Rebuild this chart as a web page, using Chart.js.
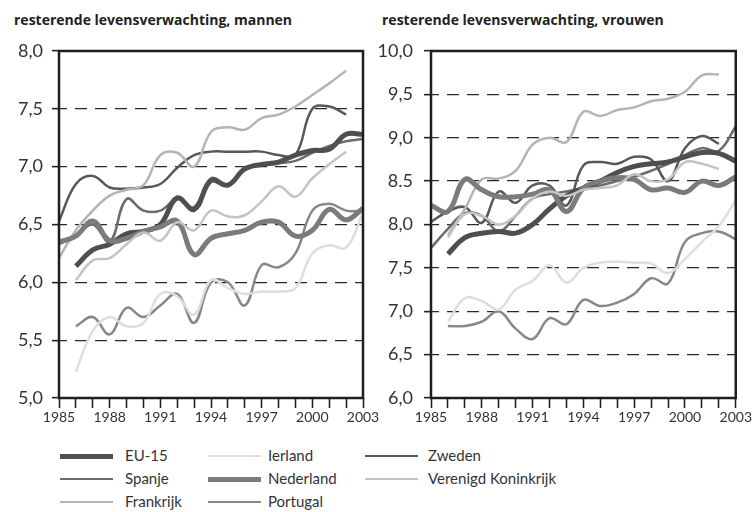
<!DOCTYPE html>
<html lang="nl">
<head>
  <meta charset="UTF-8">
  <title>Resterende levensverwachting</title>
  <script src="https://cdn.jsdelivr.net/npm/chart.js"></script>
  <style>
    body { margin: 0; background: #fff; }
    .wrap { position: relative; width: 753px; height: 512px; overflow: hidden; }
    .title { position: absolute; top: 10px; font: bold 14px "Open Sans", sans-serif; color: #222; }
    canvas { position: absolute; top: 0; }
    .leg { position: absolute; font: 15px Lato, sans-serif; color: #333; line-height: 18px; }
    .leg i { position: absolute; top: 50%; }
  </style>
</head>
<body>
  <div class="wrap">
    <div class="title" style="left:14px">resterende levensverwachting, mannen</div>
    <div class="title" style="left:382px">resterende levensverwachting, vrouwen</div>
    <div style="position:absolute;left:0;top:0;width:385px;height:440px"><canvas id="men"></canvas></div>
    <div style="position:absolute;left:366px;top:0;width:387px;height:440px"><canvas id="women"></canvas></div>
    <div id="legend"></div>
  </div>

  <script>
    const years = ['1985', '1986', '1987', '1988', '1989', '1990', '1991', '1992', '1993', '1994',
      '1995', '1996', '1997', '1998', '1999', '2000', '2001', '2002', '2003'];
    const countries = ['EU-15', 'Spanje', 'Frankrijk', 'Ierland', 'Nederland', 'Portugal', 'Zweden', 'Verenigd Koninkrijk'];

    const yLabelsM = ['5,0', '5,5', '6,0', '6,5', '7,0', '7,5', '8,0'];
    const yLabelsV = ['6,0', '6,5', '7,0', '7,5', '8,0', '8.5', '9,0', '9,5', '10,0'];

    // mannen
    const eu15M = [null, 6.14, 6.28, 6.33, 6.42, 6.44, 6.5, 6.73, 6.63, 6.88, 6.84, 6.98, 7.02, 7.04, 7.1, 7.14, 7.15, 7.28, 7.28];
    const spanjeM = [6.33, 6.4, 6.5, 6.35, 6.72, 6.62, 6.62, 6.72, 6.65, 6.9, 6.85, 6.97, 7.02, 7.03, 7.05, 7.12, 7.18, 7.22, 7.24];
    const frankrijkM = [6.21, 6.45, 6.62, 6.75, 6.8, 6.84, 7.1, 7.12, 7.0, 7.3, 7.34, 7.32, 7.42, 7.45, 7.52, 7.62, 7.72, 7.83, null];
    const ierlandM = [null, 5.23, 5.58, 5.7, 5.62, 5.65, 5.9, 5.88, 5.72, 6.02, 5.95, 5.9, 5.92, 5.92, 5.95, 6.25, 6.32, 6.3, 6.6];
    const nederlandM = [6.35, 6.4, 6.53, 6.36, 6.38, 6.44, 6.48, 6.53, 6.24, 6.38, 6.42, 6.45, 6.52, 6.52, 6.4, 6.45, 6.63, 6.54, 6.64];
    const portugalM = [null, 5.62, 5.7, 5.55, 5.78, 5.7, 5.8, 5.9, 5.65, 6.0, 6.0, 5.8, 6.15, 6.13, 6.25, 6.62, 6.68, 6.62, 6.62];
    const zwedenM = [6.53, 6.85, 6.92, 6.82, 6.81, 6.82, 6.85, 6.99, 7.1, 7.13, 7.13, 7.13, 7.13, 7.1, 7.1, 7.5, 7.52, 7.45, null];
    const vkM = [null, 6.02, 6.19, 6.21, 6.33, 6.43, 6.36, 6.52, 6.45, 6.62, 6.57, 6.58, 6.7, 6.83, 6.74, 6.9, 7.02, 7.13, null];

    // vrouwen
    const eu15V = [null, 7.66, 7.85, 7.9, 7.92, 7.9, 8.0, 8.18, 8.33, 8.42, 8.5, 8.6, 8.67, 8.7, 8.72, 8.78, 8.83, 8.82, 8.73];
    const spanjeV = [7.73, 7.95, 8.13, 8.1, 7.92, 8.1, 8.3, 8.35, 8.38, 8.42, 8.45, 8.5, 8.55, 8.62, 8.7, 8.8, 8.88, 8.85, 9.13];
    const frankrijkV = [null, 7.88, 8.18, 8.52, 8.53, 8.62, 8.92, 9.0, 8.95, 9.3, 9.25, 9.32, 9.35, 9.42, 9.45, 9.53, 9.72, 9.73, null];
    const ierlandV = [null, 6.88, 7.15, 7.12, 7.02, 7.25, 7.35, 7.53, 7.33, 7.5, 7.56, 7.57, 7.56, 7.55, 7.44, 7.6, 7.8, 7.98, 8.28];
    const nederlandV = [8.22, 8.15, 8.52, 8.4, 8.32, 8.32, 8.35, 8.4, 8.15, 8.42, 8.5, 8.54, 8.52, 8.4, 8.42, 8.37, 8.5, 8.45, 8.55];
    const portugalV = [null, 6.83, 6.83, 6.88, 7.0, 6.8, 6.68, 6.92, 6.85, 7.13, 7.06, 7.1, 7.2, 7.38, 7.32, 7.8, 7.9, 7.92, 7.83];
    const zwedenV = [8.03, 8.15, 8.2, 8.02, 8.38, 8.25, 8.45, 8.45, 8.22, 8.68, 8.72, 8.7, 8.78, 8.75, 8.5, 8.88, 9.02, 8.93, null];
    const vkV = [null, 7.85, 8.12, 8.1, 8.0, 8.1, 8.3, 8.38, 8.33, 8.4, 8.42, 8.45, 8.58, 8.5, 8.52, 8.72, 8.7, 8.64, null];

    const colors = ['#4f4f4f', '#6c6c6c', '#b4b4b4', '#dedede', '#7b7b7b', '#878787', '#585858', '#c4c4c4'];
    const widths = [5, 2.5, 2.5, 2.5, 5, 2.5, 2.5, 2.5];
    // teken volgorde: lichte lijnen onder, EU-15 bovenop
    const order = [3, 7, 2, 5, 1, 6, 4, 0];

    const frame = {
      id: 'frame',
      afterDatasetsDraw(chart) {
        const a = chart.chartArea, ctx = chart.ctx;
        ctx.save();
        ctx.strokeStyle = '#1e1e1e';
        ctx.lineWidth = 2.5;
        ctx.strokeRect(a.left, a.top, a.right - a.left, a.bottom - a.top);
        ctx.restore();
      }
    };

    function makeChart(id, series, min, max, yLabels, yWidth, padRight, yPad) {
      const datasets = series.map((d, i) => ({
        label: countries[i],
        data: d,
        borderColor: colors[i],
        borderWidth: widths[i],
        pointRadius: 0,
        tension: 0.4,
        fill: false,
        order: order[i]
      }));
      return new Chart(document.getElementById(id), {
        type: 'line',
        data: { labels: years, datasets },
        options: {
          responsive: true,
          maintainAspectRatio: false,
          animation: false,
          layout: { padding: { top: 51, right: padRight, bottom: 0, left: 0 } },
          plugins: { legend: { display: false }, tooltip: { enabled: false } },
          scales: {
            x: {
              grid: { drawOnChartArea: false, drawTicks: true, tickLength: 10, tickColor: '#222', tickWidth: 1.6 },
              border: { display: false },
              ticks: {
                autoSkip: false, maxRotation: 0, padding: 1,
                color: '#333', font: { family: 'Lato', size: 14 },
                callback: (v, i) => i % 3 === 0 ? years[i] : ''
              },
              afterFit: s => { s.height = 42; }
            },
            y: {
              min: min, max: max,
              grid: { color: '#2a2a2a', lineWidth: 1.3, drawTicks: true, tickLength: 7, tickColor: '#222', tickWidth: 1.6 },
              border: { display: false, dash: [12, 8], dashOffset: 4 },
              ticks: {
                stepSize: 0.5, padding: yPad,
                color: '#333', font: { family: 'Lato', size: 18 },
                callback: (v, i) => yLabels[i]
              },
              afterFit: s => { s.width = yWidth; }
            }
          }
        },
        plugins: [frame]
      });
    }

    makeChart('men', [eu15M, spanjeM, frankrijkM, ierlandM, nederlandM, portugalM, zwedenM, vkM],
      5, 8, yLabelsM, 59, 22, 9);
    makeChart('women', [eu15V, spanjeV, frankrijkV, ierlandV, nederlandV, portugalV, zwedenV, vkV],
      6, 10, yLabelsV, 65, 17, 11);

    // legenda in drie kolommen
    const legX = [[60, 125], [208, 268], [365, 428]];
    const legY = [446, 469, 492];
    const legend = document.getElementById('legend');
    countries.forEach((name, i) => {
      const col = Math.floor(i / 3), row = i % 3;
      const el = document.createElement('div');
      el.className = 'leg';
      el.style.left = legX[col][0] + 'px';
      el.style.top = legY[row] + 'px';
      el.style.paddingLeft = (legX[col][1] - legX[col][0]) + 'px';
      const sw = document.createElement('i');
      sw.style.left = '0px';
      sw.style.width = '53px';
      sw.style.height = widths[i] + 'px';
      sw.style.marginTop = (-widths[i] / 2 + 1) + 'px';
      sw.style.background = colors[i];
      el.appendChild(sw);
      el.appendChild(document.createTextNode(name));
      legend.appendChild(el);
    });
  </script>
</body>
</html>
